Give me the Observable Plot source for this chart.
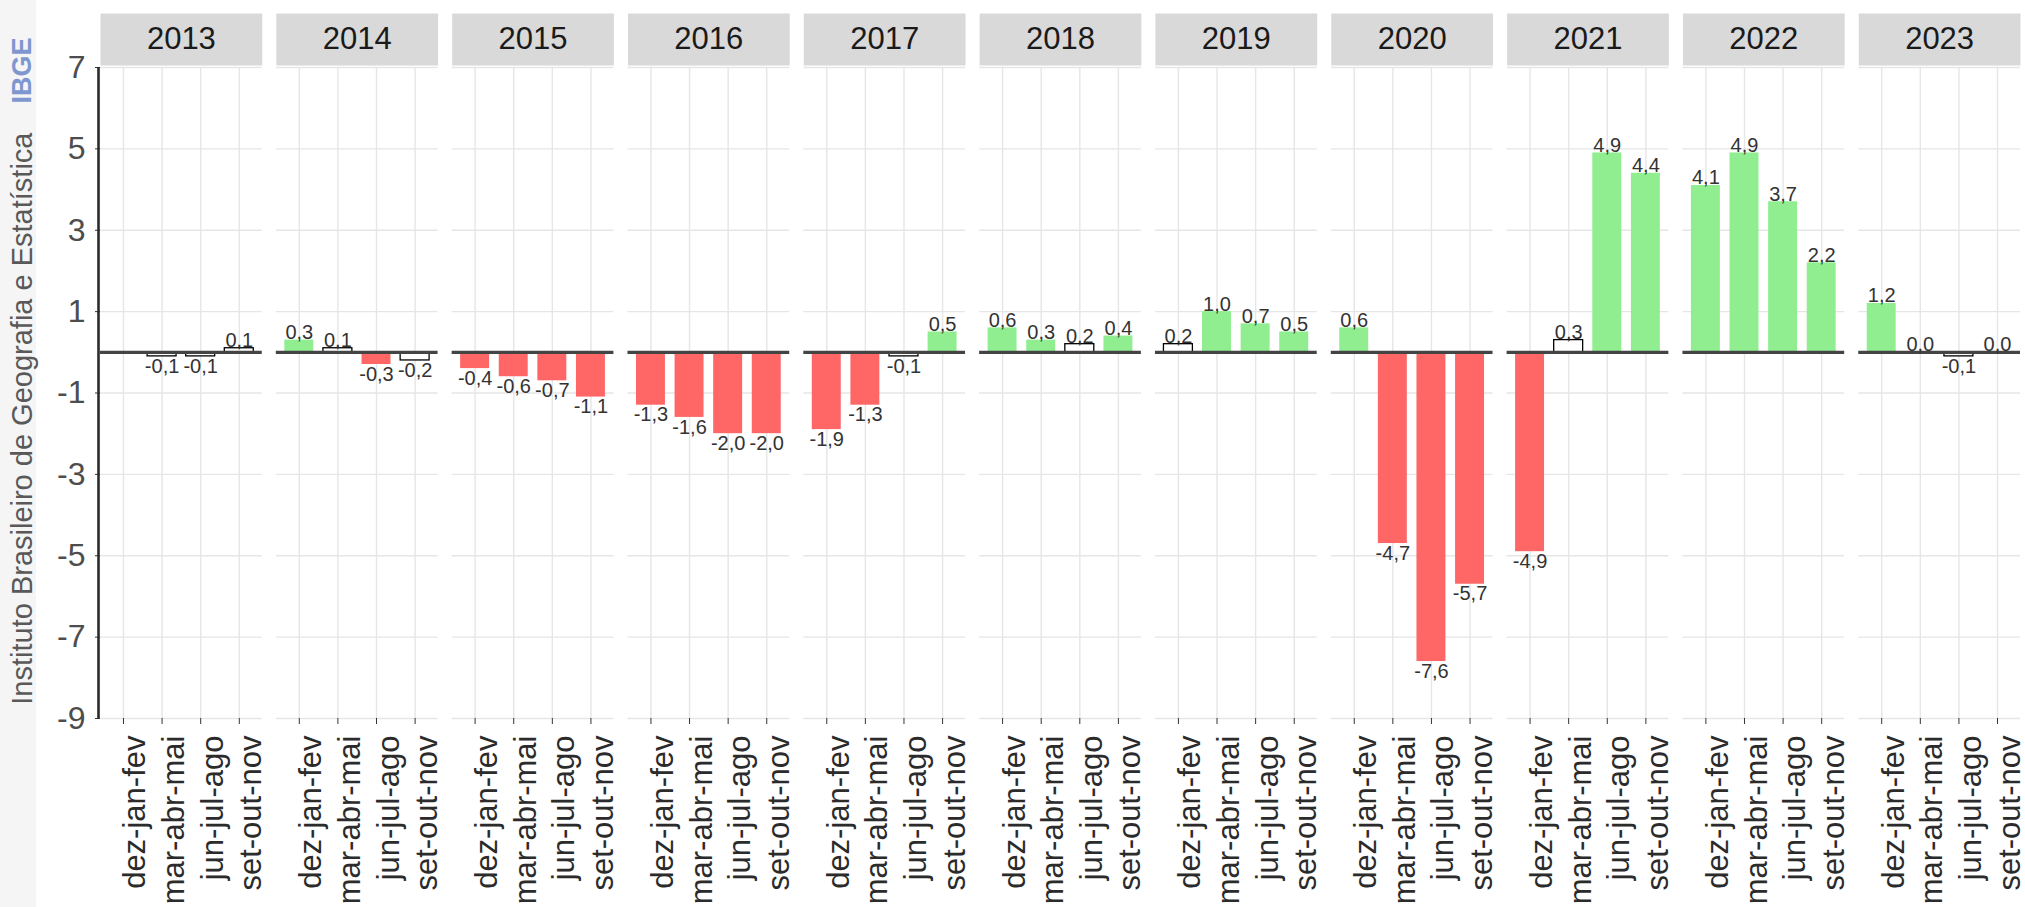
<!DOCTYPE html>
<html>
<head>
<meta charset="utf-8">
<script src="https://cdn.jsdelivr.net/npm/d3@7"></script>
<script src="https://cdn.jsdelivr.net/npm/@observablehq/plot@0.6"></script>
<style>
html, body { margin: 0; padding: 0; background: #fff; overflow: hidden; }
#chart { width: 2025px; height: 907px; overflow: hidden; }
</style>
</head>
<body>
<div id="chart"></div>
<script>
// ---- Data ----
const years = ["2013","2014","2015","2016","2017","2018","2019","2020","2021","2022","2023"];
const seasons = ["dez-jan-fev","mar-abr-mai","jun-jul-ago","set-out-nov"];
// one row per year, one column per season (null = no value)
const values = [
  [null, -0.1, -0.1,  0.1],
  [ 0.3,  0.1, -0.3, -0.2],
  [-0.4, -0.6, -0.7, -1.1],
  [-1.3, -1.6, -2.0, -2.0],
  [-1.9, -1.3, -0.1,  0.5],
  [ 0.6,  0.3,  0.2,  0.4],
  [ 0.2,  1.0,  0.7,  0.5],
  [ 0.6, -4.7, -7.6, -5.7],
  [-4.9,  0.3,  4.9,  4.4],
  [ 4.1,  4.9,  3.7,  2.2],
  [ 1.2,  0.0, -0.1,  0.0]
];
// "pos" = significant increase, "neg" = significant decrease, "ns" = stable
const status = [
  [null, "ns",  "ns",  "ns"],
  ["pos","ns",  "neg", "ns"],
  ["neg","neg", "neg", "neg"],
  ["neg","neg", "neg", "neg"],
  ["neg","neg", "ns",  "pos"],
  ["pos","pos", "ns",  "pos"],
  ["ns", "pos", "pos", "pos"],
  ["pos","neg", "neg", "neg"],
  ["neg","ns",  "pos", "pos"],
  ["pos","pos", "pos", "pos"],
  ["pos","ns",  "ns",  "ns"]
];
const yTicks = [7, 5, 3, 1, -1, -3, -5, -7, -9];
const yTitle = "Instituto Brasileiro de Geografia e Estatística";
const yTitleTag = "IBGE";

const data = [];
years.forEach((yr, i) => seasons.forEach((s, j) => {
  const v = values[i][j];
  if (v == null) return;
  data.push({year: yr, season: s, value: v, status: status[i][j]});
}));
const fmt = v => v.toFixed(1).replace(".", ",");

// layout (style only)
const W = 2025, H = 907, mL = 100, mR = 5, mT = 67, mB = 189;
const fxPad = 0.08, xPadIn = 0.25, xPadOut = 0.22;
const fxStep = (W - mL - mR) / (years.length - fxPad);
const bw = fxStep * (1 - fxPad);
const xStep = bw / (seasons.length - xPadIn + 2 * xPadOut);
const firstCenter = xStep * (xPadOut + (1 - xPadIn) / 2);
const frameH = H - mT - mB;

const font = "'Liberation Sans', Arial, Helvetica, sans-serif";

const chart = Plot.plot({
  width: W, height: H,
  marginLeft: mL, marginRight: mR, marginTop: mT, marginBottom: mB,
  style: {fontFamily: font, background: "linear-gradient(to right, #f5f5f5 0px, #f5f5f5 36px, #ffffff 36px)", overflow: "visible"},
  fx: {domain: years, paddingInner: fxPad, paddingOuter: 0, round: false, axis: null, label: null},
  x: {domain: seasons, paddingInner: xPadIn, paddingOuter: xPadOut, round: false, label: null},
  y: {domain: [-9, 7], label: null},
  color: {domain: ["pos", "neg"], range: ["#90ee90", "#ff6666"]},
  marks: [
    // facet strips
    Plot.frame({fill: "#d9d9d9", stroke: null, insetTop: -54, insetBottom: frameH + 2}),
    // grids
    Plot.gridY(yTicks, {stroke: "#e6e6e6", strokeOpacity: 1, strokeWidth: 1.4}),
    Plot.gridX({stroke: "#e6e6e6", strokeOpacity: 1, strokeWidth: 1.4}),
    // y axis
    Plot.axisY(yTicks, {tickSize: 5, tickPadding: 10, fontSize: 32, tickFormat: d => String(d), fill: "#4d4d4d", stroke: "#333", label: null}),
    Plot.ruleX([years[0]], {fx: d => d, x: () => seasons[0], dx: -(firstCenter + 2), y1: -9, y2: 7, stroke: "#2b2b2b", strokeWidth: 2.6}),
    // x axis ticks + labels
    Plot.axisX({tickSize: 6, tickFormat: () => "", stroke: "#333", label: null}),
    Plot.text(seasons, {x: d => d, frameAnchor: "bottom", rotate: -90, textAnchor: "end", lineAnchor: "top", dy: 17, fontSize: 31, fill: "#2b2b2b"}),
    // bars
    Plot.barY(data.filter(d => d.status !== "ns"), {fx: "year", x: "season", y: "value", fill: "status"}),
    Plot.barY(data.filter(d => d.status === "ns"), {fx: "year", x: "season", y: "value", fill: "white", stroke: "black", strokeWidth: 1.3}),
    // zero line
    Plot.ruleY([0], {stroke: "#444", strokeWidth: 3.2}),
    // value labels
    Plot.text(data.filter(d => d.value >= 0), {fx: "year", x: "season", y: "value", text: d => fmt(d.value), lineAnchor: "bottom", dy: -1, fontSize: 20, fill: "#333"}),
    Plot.text(data.filter(d => d.value < 0), {fx: "year", x: "season", y: "value", text: d => fmt(d.value), lineAnchor: "top", dy: 2, fontSize: 20, fill: "#333"}),
    // facet labels
    Plot.text(years, {fx: d => d, text: d => d, frameAnchor: "top", lineAnchor: "middle", dy: -28, fontSize: 31, fill: "#1a1a1a"}),
    // y title
    Plot.text([years[0]], {fx: d => d, text: () => yTitle, frameAnchor: "top-left", lineAnchor: "middle", dx: -78, dy: 65, rotate: -90, textAnchor: "end", fontSize: 29, fill: "#595959"}),
    Plot.text([years[0]], {fx: d => d, text: () => yTitleTag, frameAnchor: "top-left", lineAnchor: "middle", dx: -78, dy: -30, rotate: -90, textAnchor: "end", fontSize: 27, fontWeight: "bold", fill: "#7f97cf"})
  ]
});
document.getElementById("chart").appendChild(chart);
</script>
</body>
</html>
